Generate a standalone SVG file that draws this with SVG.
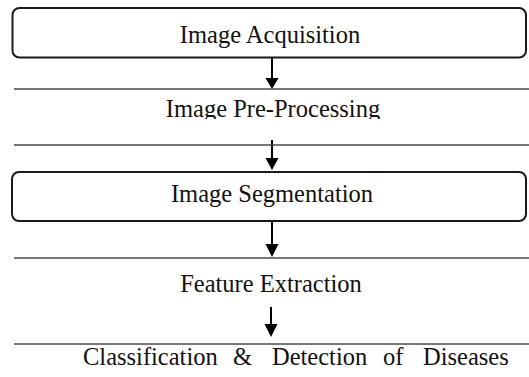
<svg xmlns="http://www.w3.org/2000/svg" width="529" height="377" viewBox="0 0 529 377">
  <style>
    .box { fill: #ffffff; stroke: #1a1a1a; stroke-width: 2; }
    .rule { stroke: #4a4a4a; stroke-width: 1.6; fill: none; }
    .stem { stroke: #000000; stroke-width: 2; fill: none; }
    .head { fill: #000000; }
    .label { font-family: "Liberation Serif", "Times New Roman", serif; font-size: 24.5px; fill: #111111; }
  </style>
  <defs>
    <clipPath id="preClip">
      <rect x="0" y="90" width="529" height="29"/>
    </clipPath>
  </defs>
  <rect width="529" height="377" fill="#ffffff"/>

  <g id="connectors">
    <line class="stem" x1="272" y1="57" x2="272" y2="80"/>
    <polygon class="head" points="265.5,78 278.5,78 272,89"/>
    <line class="stem" x1="272" y1="140" x2="272" y2="160"/>
    <polygon class="head" points="265.5,158 278.5,158 272,170"/>
    <line class="stem" x1="272" y1="222" x2="272" y2="246"/>
    <polygon class="head" points="265.5,244 278.5,244 272,257"/>
    <line class="stem" x1="271" y1="307" x2="271" y2="326"/>
    <polygon class="head" points="264.5,324 277.5,324 271,337"/>
  </g>

  <g id="node-acquisition">
    <rect class="box" x="12.5" y="8" width="513.5" height="49.5" rx="7"/>
    <text class="label" x="270" y="43" text-anchor="middle">Image Acquisition</text>
  </g>

  <g id="node-preprocessing">
    <line class="rule" x1="14" y1="89" x2="529" y2="89"/>
    <text class="label" x="273" y="117" text-anchor="middle" clip-path="url(#preClip)">Image Pre-Processing</text>
    <line class="rule" x1="14" y1="145" x2="529" y2="145"/>
  </g>

  <g id="node-segmentation">
    <rect class="box" x="12" y="172" width="514" height="49" rx="7"/>
    <text class="label" x="272" y="202" text-anchor="middle">Image Segmentation</text>
  </g>

  <g id="node-features">
    <line class="rule" x1="14" y1="258" x2="529" y2="258"/>
    <text class="label" x="271" y="292" text-anchor="middle">Feature Extraction</text>
  </g>

  <g id="node-classification">
    <line class="rule" x1="14" y1="344" x2="529" y2="344"/>
    <text class="label" y="365">
      <tspan x="83">Classification</tspan>
      <tspan x="233">&amp;</tspan>
      <tspan x="272">Detection</tspan>
      <tspan x="383">of</tspan>
      <tspan x="423">Diseases</tspan>
    </text>
  </g>
</svg>
